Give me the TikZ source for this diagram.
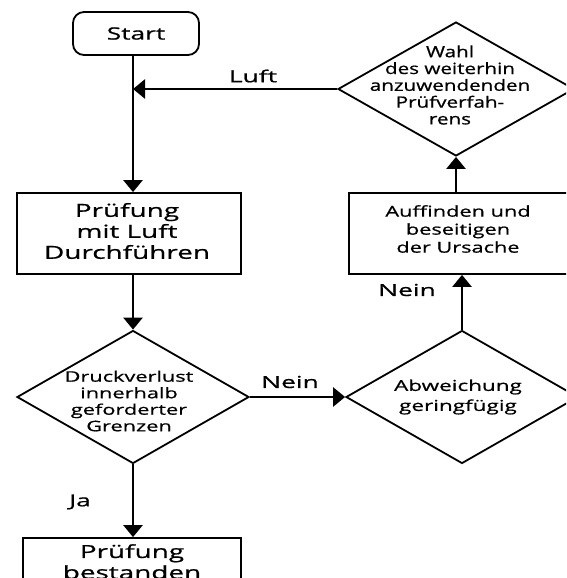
\documentclass[tikz,border=0pt]{standalone}
\usepackage{fontspec}
\setmainfont{Open Sans}
% stretched faces for the different text blocks
\newfontfamily\fmain[FakeStretch=1.55,FakeBold=0.8]{Open Sans}
\newfontfamily\fwahl[FakeStretch=1.33,FakeBold=0.8]{Open Sans}
\newfontfamily\fdruck[FakeStretch=1.5,FakeBold=0.8]{Open Sans}
\newfontfamily\fabw[FakeStretch=1.5,FakeBold=0.8]{Open Sans}
\newfontfamily\fauf[FakeStretch=1.45,FakeBold=0.8]{Open Sans}
\newfontfamily\flbl[FakeStretch=1.6,FakeBold=0.8]{Open Sans}
\usetikzlibrary{shapes.geometric,arrows.meta}
\begin{document}
\begin{tikzpicture}[x=1pt,y=-1pt,
  box/.style={draw, line width=1.8pt, inner sep=0pt, minimum width=#1, minimum height=81pt},
  dia/.style={draw, diamond, line width=1.8pt, inner sep=0pt, minimum width=232pt, minimum height=133pt},
  txt/.style={align=center, inner sep=0pt},
  conn/.style={line width=2.6pt, -{Triangle[length=12pt,width=19pt]}},
  lbl/.style={inner sep=0pt, font=\flbl\fontsize{16.5}{18}\selectfont}
]
\useasboundingbox (0,0) rectangle (566,578);
\clip (0,0) rectangle (566,578);

% process boxes and decisions
\node[box=126pt, minimum height=43pt, rounded corners=11pt,
      font=\fmain\fontsize{17}{20}\selectfont] (start) at (136,33.5) {Start};
\node[box=224pt] (box1) at (129,233.5) {};
\node[txt, font=\fmain\fontsize{18}{21}\selectfont] (box1t) at (127,231) {Prüfung\\mit Luft\\Durchführen};

\node[dia] (d1) at (133,397) {};
\node[txt, font=\fdruck\fontsize{14.5}{16.5}\selectfont] (d1t) at (129,401) {Druckverlust\\innerhalb\\geforderter\\Grenzen};

\node[dia] (d2) at (462,397) {};
\node[txt, font=\fabw\fontsize{15}{20}\selectfont] (d2t) at (458,397) {Abweichung\\geringfügig};

\node[box=226pt] (box2) at (462,233.5) {};
\node[txt, font=\fauf\fontsize{15}{18}\selectfont] (box2t) at (458,229) {Auffinden und\\beseitigen\\der Ursache};

\node[dia, minimum width=236pt, minimum height=134pt] (d3) at (456,89) {};
\node[txt, font=\fwahl\fontsize{15.5}{16.8}\selectfont] (d3t) at (450,85) {Wahl\\des weiterhin\\anzuwendenden\\Prüfverfah-\\rens};

\node[box=218pt] (final) at (132,578.5) {};
\node[txt, font=\fmain\fontsize{18}{21}\selectfont, anchor=north] (finalt) at (132,544) {Prüfung\\bestanden};

% connectors
\draw[conn] (start.south -| 133,0) -- (133,0 |- box1.north);
\draw[conn] (d3.west) -- (133,0 |- d3.west);
\node[lbl] (luft) at (253,76) {Luft};
\draw[conn] (box1.south -| d1.north) -- (d1.north);
\draw[conn] (d1.east) -- (d2.west);
\node[lbl] (nein1) at (290,382) {Nein};
\draw[conn] (d2.north) -- (d2.north |- box2.south);
\node[lbl] (nein2) at (407,290) {Nein};
\draw[conn] (box2.north -| d3.south) -- (d3.south);
\draw[conn] (d1.south) -- (d1.south |- final.north);
\node[lbl] (ja) at (80,502) {Ja};
\end{tikzpicture}
\end{document}
